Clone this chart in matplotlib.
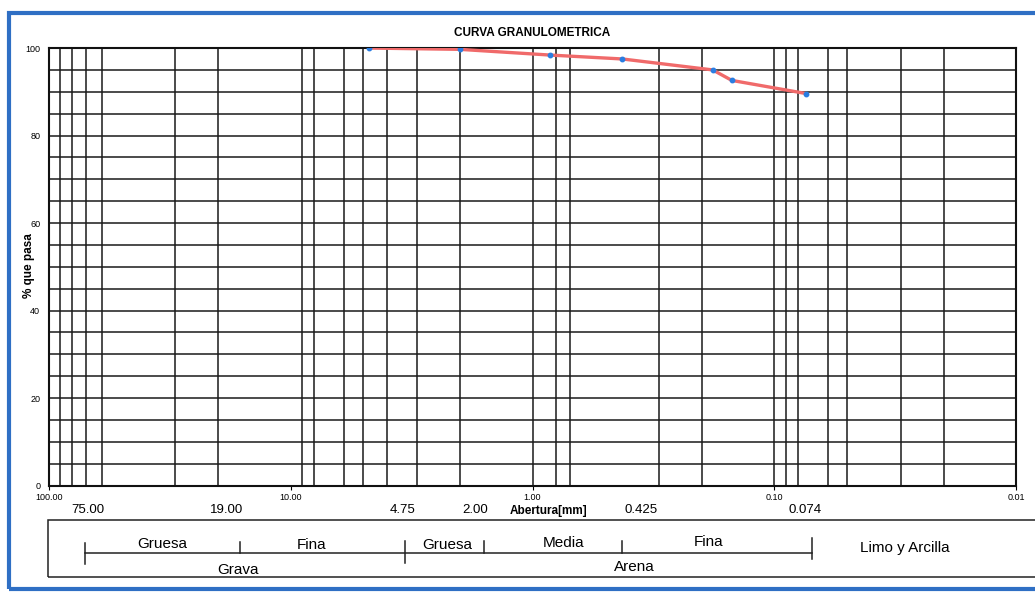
import matplotlib
matplotlib.use('Agg')
import matplotlib.pyplot as plt
from matplotlib.patches import Rectangle
from matplotlib.lines import Line2D

plt.rcParams['font.family'] = ['Liberation Sans', 'DejaVu Sans']

# sieve openings (mm) and percent passing
abertura = [4.75, 2.00, 0.85, 0.425, 0.18, 0.15, 0.074]
pct_pasa = [100.0, 99.7, 98.4, 97.5, 95.0, 92.6, 89.6]

# irregular vertical grid of the printed form
grid_x = [90, 80, 70, 60, 30, 20, 9, 8, 6, 5, 4, 3, 2, 1,
          0.8, 0.7, 0.3, 0.2, 0.1, 0.09, 0.08, 0.06, 0.05, 0.03, 0.02]
major_x = [100, 10, 1, 0.1, 0.01]
major_lbl = ['100.00', '10.00', '1.00', '0.10', '0.01']

# second row of sizes under the axis (label, x position as axes fraction)
size_lbls = ['75.00', '19.00', '4.75', '2.00', '0.425', '0.074']
size_pos = [0.041, 0.184, 0.366, 0.441, 0.612, 0.782]

fig = plt.figure(figsize=(10.35, 5.93), dpi=100)
ax = fig.add_axes([0.047, 0.181, 0.935, 0.738])

ax.set_xscale('log')
ax.set_xlim(100, 0.01)
ax.set_ylim(0, 100)

for g in grid_x:
    ax.axvline(g, color='#1a1a1a', lw=1.1, zorder=1)
for g in range(5, 100, 5):
    ax.axhline(g, color='#1a1a1a', lw=1.1, zorder=1)

ax.plot(abertura, pct_pasa, color='#f06a6a', lw=2.4, zorder=3)
ax.plot(abertura, pct_pasa, 'o', color='#2a7de1', ms=3.2, zorder=4)

ax.set_xticks(major_x)
ax.set_xticklabels(major_lbl, fontsize=6.5)
ax.xaxis.set_minor_locator(matplotlib.ticker.NullLocator())
ax.set_yticks([0, 20, 40, 60, 80, 100])
ax.tick_params(axis='y', labelsize=6.5, length=0, pad=6)
ax.tick_params(axis='x', length=3, pad=2)
for s in ax.spines.values():
    s.set_linewidth(1.5)
    s.set_color('#111111')

ax.set_ylabel('% que pasa', fontsize=8.5, fontweight='bold')
ax.yaxis.set_label_coords(-0.0146, 0.502)
ax.set_title('CURVA GRANULOMETRICA', fontsize=8.5, fontweight='bold', pad=9)

for lbl, xp in zip(size_lbls, size_pos):
    ax.text(xp, -0.055, lbl, transform=ax.transAxes, fontsize=9.5,
            ha='center', va='center')
ax.text(0.517, -0.058, 'Abertura[mm]', transform=ax.transAxes, fontsize=8.5,
        fontweight='bold', ha='center', va='center')

# classification box under the chart (figure pixel coords -> fraction)
W, H = 1035, 593
def fx(px):
    return px / W
def fy(py):
    return 1 - py / H

fig.add_artist(Rectangle((fx(48), fy(577)), fx(1040) - fx(48), fy(520) - fy(577),
                         transform=fig.transFigure, fill=False, lw=1.1, color='#222222'))
fig.add_artist(Line2D([fx(85), fx(812)], [fy(553), fy(553)], transform=fig.transFigure,
                      lw=1.1, color='#222222'))
for px, top, bot in [(85, 543, 564), (240, 542, 553), (405, 541, 563),
                     (484, 541, 553), (622, 541, 553), (812, 538, 559)]:
    fig.add_artist(Line2D([fx(px), fx(px)], [fy(top), fy(bot)], transform=fig.transFigure,
                          lw=1.1, color='#222222'))

box_txt = [('Gruesa', 162, 544), ('Fina', 312, 545), ('Gruesa', 447, 545),
           ('Media', 564, 543), ('Fina', 709, 542), ('Grava', 238, 570),
           ('Arena', 634, 567), ('Limo y Arcilla', 905, 548)]
for t, px, py in box_txt:
    fig.text(fx(px), fy(py), t, fontsize=11, ha='center', va='center')

# blue frame of the sheet
fig.add_artist(Rectangle((fx(9), fy(589)), 1.02 - fx(9), fy(13) - fy(589),
                         transform=fig.transFigure, fill=False, lw=3, color='#2f6fc4'))

fig.savefig('out.png', dpi=100)
